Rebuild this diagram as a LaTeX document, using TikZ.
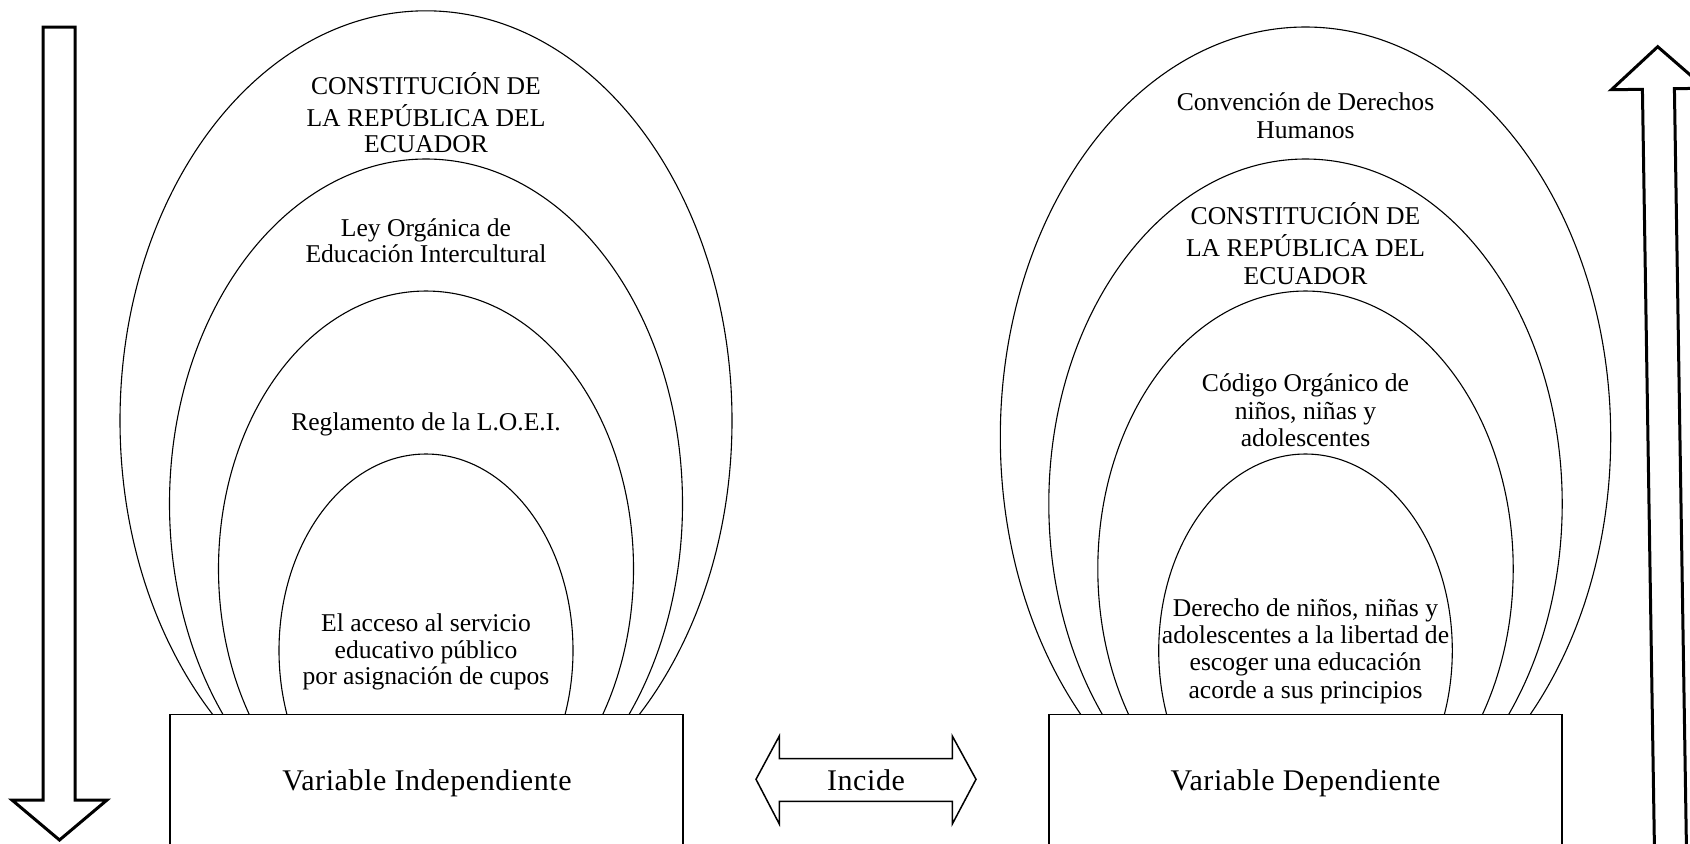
\documentclass[tikz,border=0pt]{standalone}
\usepackage{fontspec}
\setmainfont{Liberation Serif}
\begin{document}
\begin{tikzpicture}[x=0.5pt,y=-0.5pt,
  ell/.style={draw=black, fill=white, line width=0.55pt},
  varbox/.style={draw=black, fill=white, line width=0.75pt},
  bigarrow/.style={draw=black, fill=white, line width=1.5pt, line join=miter},
  midarrow/.style={draw=black, fill=white, line width=0.75pt, line join=miter},
  lefttxt/.style={inner sep=0pt, align=center, font=\fontsize{12.8}{13.2}\selectfont},
  righttxt/.style={inner sep=0pt, align=center, font=\fontsize{12.8}{13.7}\selectfont},
  bigtxt/.style={inner sep=0pt, font=\fontsize{15}{18}\selectfont\addfontfeatures{LetterSpace=2}, anchor=base}]
\useasboundingbox (0,0) rectangle (1690,843);
\clip (0,0) rectangle (1690,843);

% left nested ellipses
\draw[ell] (426,420.6) ellipse [x radius=153pt, y radius=204.9pt];
\draw[ell] (426,503.7) ellipse [x radius=128.25pt, y radius=172.35pt];
\draw[ell] (426,568.8) ellipse [x radius=103.75pt, y radius=138.9pt];
\draw[ell] (426,650.5) ellipse [x radius=73.5pt, y radius=98.25pt];

% right nested ellipses
\draw[ell] (1305.5,437) ellipse [x radius=152.6pt, y radius=205pt];
\draw[ell] (1305.5,503.7) ellipse [x radius=128.35pt, y radius=172.35pt];
\draw[ell] (1305.5,568.8) ellipse [x radius=103.85pt, y radius=138.9pt];
\draw[ell] (1305.5,650.5) ellipse [x radius=73.4pt, y radius=98.25pt];

% boxes
\draw[varbox] (170,714.5) rectangle (683,900);
\draw[varbox] (1049,714.5) rectangle (1562,900);

% left texts
\node[lefttxt] (l1) at (426,116.5) {\strut CONSTITUCIÓN DE\\ \strut LA REPÚBLICA DEL\\ \strut ECUADOR};
\node[lefttxt] (l2) at (426,244) {\strut Ley Orgánica de\\ \strut Educación Intercultural};
\node[lefttxt, anchor=base] (l3) at (426,430) {Reglamento de la L.O.E.I.};
\node[lefttxt] (l4) at (426,652.8) {\strut El acceso al servicio\\ \strut educativo público\\ \strut por asignación de cupos};

% right texts
\node[righttxt] (r1) at (1305.5,119.2) {\strut Convención de Derechos\\ \strut Humanos};
\node[righttxt] (r2) at (1305.5,247.5) {\strut CONSTITUCIÓN DE\\ \strut LA REPÚBLICA DEL\\ \strut ECUADOR};
\node[righttxt] (r3) at (1305.5,413.9) {\strut Código Orgánico de\\ \strut niños, niñas y\\ \strut adolescentes};
\node[righttxt] (r4) at (1305.5,651.6) {\strut Derecho de niños, niñas y\\ \strut adolescentes a la libertad de\\ \strut escoger una educación\\ \strut acorde a sus principios};

% box labels
\node[bigtxt] (vi) at (427,790) {Variable Independiente};
\node[bigtxt] (vd) at (1305.5,790) {Variable Dependiente};

% double arrow "Incide"
\draw[midarrow] (756,779.3) -- (779.3,736) -- (779.3,758.7) -- (952.3,758.7) -- (952.3,736) -- (976,779.3) -- (952.3,824) -- (952.3,801.3) -- (779.3,801.3) -- (779.3,824) -- cycle;
\node[bigtxt] (inc) at (866,790) {Incide};

% left down arrow
\draw[bigarrow] (43,27) -- (75,27) -- (75,800) -- (107,800) -- (59.5,840) -- (12,800) -- (43,800) -- cycle;

% right up arrow (slightly tilted)
\draw[bigarrow] (1657.7,46.7) -- (1705.4,88.2) -- (1674.4,88.7) -- (1687.2,896.3) -- (1655.2,896.8) -- (1642.4,89.3) -- (1611.4,89.7) -- cycle;
\end{tikzpicture}
\end{document}
